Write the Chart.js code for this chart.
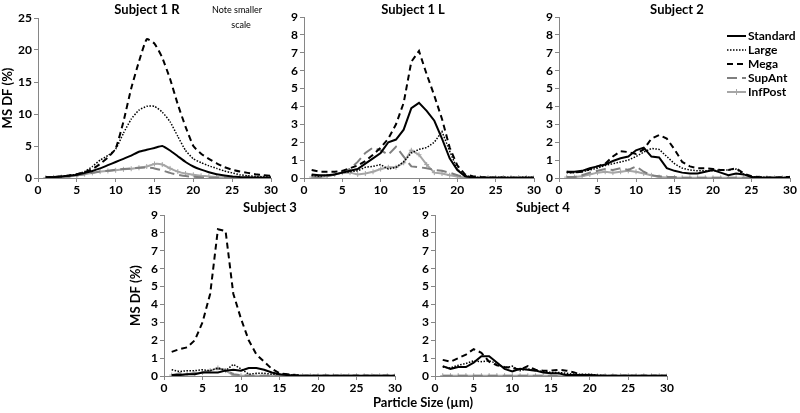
<!DOCTYPE html>
<html>
<head>
<meta charset="utf-8">
<script src="https://cdn.jsdelivr.net/npm/chart.js@4/dist/chart.umd.min.js"></script>
<style>
    body { margin: 0; background: #fff; width: 800px; height: 413px; position: relative; overflow: hidden; }
    canvas { position: absolute; }
    #xTitle { position: absolute; left: 323px; width: 200px; top: 394px; text-align: center; font: bold 13px Lato, sans-serif; color: #000; }
</style>
</head>
<body>
<canvas id="p1"></canvas>
<canvas id="p2"></canvas>
<canvas id="p3"></canvas>
<canvas id="p4"></canvas>
<canvas id="p5"></canvas>
<div id="xTitle">Particle Size (µm)</div>
<script>
// Particle size bins (µm)
const sizes = [1, 2, 3, 4, 5, 6, 7, 8, 9, 10, 11, 12, 13, 14, 15, 16, 17, 18, 19, 20, 21, 22, 23, 24, 25, 26, 27, 28, 29, 30];
const seriesNames = ['Standard', 'Large', 'Mega', 'SupAnt', 'InfPost'];

// Subject 1 R
const s1rStandard = [0.1, 0.15, 0.25, 0.35, 0.5, 0.8, 1.1, 1.5, 2.0, 2.5, 3.0, 3.5, 4.1, 4.4, 4.7, 5.0, 4.3, 3.4, 2.5, 1.8, 1.3, 0.9, 0.6, 0.4, 0.25, 0.15, 0.1, 0.07, 0.05, 0.03];
const s1rLarge = [0.1, 0.15, 0.25, 0.4, 0.6, 1.0, 1.8, 2.8, 3.5, 4.5, 7.0, 9.2, 10.6, 11.2, 11.2, 10.3, 8.8, 6.5, 4.3, 3.0, 2.4, 1.9, 1.5, 1.1, 0.8, 0.5, 0.35, 0.25, 0.2, 0.15];
const s1rMega = [0.1, 0.15, 0.25, 0.4, 0.6, 0.9, 1.4, 2.2, 3.2, 4.6, 8.8, 14.0, 18.2, 21.7, 21.0, 18.8, 15.5, 11.5, 8.0, 5.0, 3.8, 3.0, 2.3, 1.7, 1.3, 1.0, 0.8, 0.6, 0.45, 0.35];
const s1rSupAnt = [0.05, 0.1, 0.15, 0.25, 0.4, 0.6, 0.8, 1.0, 1.15, 1.3, 1.4, 1.5, 1.6, 1.65, 1.5, 1.2, 0.8, 0.5, 0.3, 0.2, 0.1, 0.05, 0.03, 0.02, 0.01, 0.01, 0.01, 0.01, 0.01, 0.01];
const s1rInfPost = [0.05, 0.1, 0.15, 0.25, 0.4, 0.6, 0.8, 1.0, 1.1, 1.2, 1.35, 1.45, 1.6, 1.8, 2.2, 2.1, 1.5, 1.0, 0.7, 0.5, 0.35, 0.25, 0.15, 0.1, 0.08, 0.06, 0.05, 0.05, 0.04, 0.04];

// Subject 1 L
const s1lStandard = [0.2, 0.15, 0.15, 0.2, 0.3, 0.4, 0.5, 0.8, 1.1, 1.4, 2.0, 2.15, 2.7, 3.9, 4.2, 3.75, 3.2, 2.2, 1.1, 0.45, 0.1, 0.03, 0.02, 0.02, 0.02, 0.02, 0.02, 0.02, 0.02, 0.02];
const s1lLarge = [0.15, 0.1, 0.15, 0.2, 0.3, 0.35, 0.4, 0.6, 0.65, 0.75, 0.5, 0.6, 0.9, 1.4, 1.6, 1.7, 2.0, 2.6, 1.5, 0.5, 0.15, 0.05, 0.03, 0.03, 0.03, 0.05, 0.03, 0.03, 0.05, 0.03];
const s1lMega = [0.45, 0.35, 0.35, 0.35, 0.4, 0.55, 0.7, 0.95, 1.3, 1.7, 2.2, 3.0, 4.2, 6.5, 7.1, 5.8, 4.6, 3.3, 1.7, 0.7, 0.2, 0.1, 0.05, 0.03, 0.03, 0.02, 0.02, 0.02, 0.02, 0.02];
const s1lSupAnt = [0.1, 0.05, 0.1, 0.2, 0.35, 0.5, 0.9, 1.4, 1.7, 1.55, 1.3, 1.75, 1.2, 0.65, 0.6, 0.55, 0.45, 0.4, 0.3, 0.15, 0.05, 0.03, 0.02, 0.02, 0.02, 0.02, 0.02, 0.02, 0.02, 0.02];
const s1lInfPost = [0.05, 0.05, 0.1, 0.2, 0.3, 0.3, 0.2, 0.25, 0.35, 0.5, 0.6, 0.6, 0.85, 1.55, 1.3, 0.75, 0.3, 0.25, 0.15, 0.08, 0.03, 0.02, 0.02, 0.02, 0.02, 0.02, 0.02, 0.02, 0.02, 0.02];

// Subject 2
const s2Standard = [0.35, 0.35, 0.4, 0.55, 0.65, 0.75, 0.95, 1.1, 1.2, 1.55, 1.7, 1.2, 1.15, 0.55, 0.4, 0.3, 0.25, 0.25, 0.35, 0.45, 0.3, 0.15, 0.25, 0.2, 0.05, 0.03, 0.02, 0.02, 0.02, 0.02];
const s2Large = [0.3, 0.3, 0.35, 0.45, 0.55, 0.7, 0.8, 0.9, 1.0, 1.2, 1.45, 1.65, 1.6, 1.2, 0.8, 0.55, 0.45, 0.4, 0.4, 0.4, 0.45, 0.45, 0.5, 0.2, 0.08, 0.05, 0.03, 0.03, 0.03, 0.03];
const s2Mega = [0.35, 0.3, 0.35, 0.5, 0.65, 0.8, 1.2, 1.5, 1.45, 1.35, 1.6, 2.2, 2.4, 2.2, 1.6, 0.9, 0.65, 0.55, 0.55, 0.5, 0.45, 0.45, 0.55, 0.25, 0.1, 0.05, 0.03, 0.03, 0.05, 0.05];
const s2SupAnt = [0.05, 0.05, 0.15, 0.3, 0.4, 0.5, 0.45, 0.55, 0.45, 0.65, 0.35, 0.15, 0.1, 0.05, 0.05, 0.02, 0.01, 0.01, 0.01, 0.01, 0.01, 0.01, 0.01, 0.01, 0.01, 0.01, 0.01, 0.01, 0.01, 0.01];
const s2InfPost = [0.05, 0.05, 0.1, 0.2, 0.3, 0.35, 0.3, 0.35, 0.4, 0.35, 0.25, 0.15, 0.05, 0.03, 0.02, 0.01, 0.01, 0.01, 0.01, 0.01, 0.01, 0.01, 0.01, 0.01, 0.01, 0.01, 0.01, 0.01, 0.01, 0.01];

// Subject 3
const s3Standard = [0.05, 0.05, 0.1, 0.1, 0.2, 0.2, 0.2, 0.3, 0.35, 0.3, 0.45, 0.45, 0.35, 0.2, 0.1, 0.05, 0.02, 0.02, 0.01, 0.01, 0.01, 0.01, 0.01, 0.01, 0.01, 0.01, 0.01, 0.01, 0.01, 0.01];
const s3Large = [0.35, 0.25, 0.3, 0.3, 0.35, 0.3, 0.45, 0.3, 0.65, 0.4, 0.1, 0.15, 0.15, 0.1, 0.1, 0.1, 0.05, 0.02, 0.01, 0.01, 0.01, 0.01, 0.01, 0.01, 0.01, 0.01, 0.01, 0.01, 0.01, 0.01];
const s3Mega = [1.35, 1.5, 1.6, 2.0, 3.0, 4.6, 8.2, 8.1, 4.6, 3.2, 2.0, 1.2, 0.8, 0.4, 0.15, 0.1, 0.05, 0.02, 0.01, 0.01, 0.01, 0.01, 0.01, 0.01, 0.01, 0.01, 0.01, 0.01, 0.01, 0.01];
const s3SupAnt = [0.05, 0.15, 0.1, 0.15, 0.2, 0.3, 0.4, 0.35, 0.1, 0.05, 0.02, 0.01, 0.01, 0.01, 0.01, 0.01, 0.01, 0.01, 0.01, 0.01, 0.01, 0.01, 0.01, 0.01, 0.01, 0.01, 0.01, 0.01, 0.01, 0.01];
const s3InfPost = [0.05, 0.05, 0.1, 0.15, 0.2, 0.3, 0.45, 0.3, 0.05, 0.02, 0.01, 0.01, 0.01, 0.01, 0.01, 0.01, 0.01, 0.01, 0.01, 0.01, 0.01, 0.01, 0.01, 0.01, 0.01, 0.01, 0.01, 0.01, 0.01, 0.01];

// Subject 4
const s4Standard = [0.55, 0.4, 0.5, 0.5, 0.75, 1.1, 1.1, 0.75, 0.4, 0.25, 0.4, 0.35, 0.3, 0.2, 0.15, 0.15, 0.05, 0.05, 0.05, 0.05, 0.02, 0.01, 0.01, 0.01, 0.01, 0.01, 0.01, 0.01, 0.01, 0.01];
const s4Large = [0.5, 0.45, 0.6, 0.7, 0.85, 0.8, 0.85, 0.7, 0.45, 0.55, 0.3, 0.4, 0.3, 0.25, 0.2, 0.2, 0.15, 0.1, 0.1, 0.1, 0.05, 0.02, 0.01, 0.01, 0.01, 0.01, 0.01, 0.01, 0.01, 0.01];
const s4Mega = [0.9, 0.8, 1.0, 1.2, 1.5, 1.3, 0.8, 0.6, 0.5, 0.45, 0.35, 0.55, 0.35, 0.3, 0.3, 0.35, 0.3, 0.2, 0.05, 0.05, 0.02, 0.01, 0.01, 0.01, 0.01, 0.01, 0.01, 0.01, 0.01, 0.01];
const s4SupAnt = [0.02, 0.02, 0.02, 0.02, 0.02, 0.02, 0.02, 0.02, 0.02, 0.02, 0.01, 0.01, 0.01, 0.01, 0.01, 0.01, 0.01, 0.01, 0.01, 0.01, 0.01, 0.01, 0.01, 0.01, 0.01, 0.01, 0.01, 0.01, 0.01, 0.01];
const s4InfPost = [0.02, 0.02, 0.02, 0.02, 0.02, 0.02, 0.02, 0.02, 0.02, 0.02, 0.01, 0.01, 0.01, 0.01, 0.01, 0.01, 0.01, 0.01, 0.01, 0.01, 0.01, 0.01, 0.01, 0.01, 0.01, 0.01, 0.01, 0.01, 0.01, 0.01];

Chart.defaults.font.family = 'Lato, sans-serif';
Chart.defaults.color = '#000';

const axisGray = '#868686';

// Line style of each series
const seriesStyles = {
    Standard: { borderColor: '#000', borderWidth: 2, borderDash: [], pointRadius: 0 },
    Large: { borderColor: '#000', borderWidth: 1.5, borderDash: [1.5, 1.5], pointRadius: 0 },
    Mega: { borderColor: '#000', borderWidth: 2, borderDash: [6, 4], pointRadius: 0 },
    SupAnt: { borderColor: '#7f7f7f', borderWidth: 2, borderDash: [10, 5], pointRadius: 0 },
    InfPost: { borderColor: '#a6a6a6', borderWidth: 2, borderDash: [], pointRadius: 2.5, pointStyle: 'cross', pointBorderColor: '#a6a6a6', pointBorderWidth: 1 }
};

// Draws panel titles, the note and the legend
const panelText = {
    id: 'panelText',
    afterDraw(chart, args, opts) {
        const ctx = chart.ctx;
        ctx.save();
        (opts.items || []).forEach(function(t) {
            ctx.font = t.font;
            ctx.fillStyle = t.color || '#000';
            ctx.textAlign = t.align || 'center';
            ctx.textBaseline = 'middle';
            ctx.fillText(t.text, t.x, t.y);
        });
        if (opts.legend) {
            const lg = opts.legend;
            chart.data.datasets.forEach(function(ds, i) {
                const y = lg.y + i * lg.step;
                ctx.strokeStyle = ds.borderColor;
                ctx.lineWidth = ds.borderWidth;
                ctx.setLineDash(ds.borderDash || []);
                ctx.beginPath();
                ctx.moveTo(lg.x, y);
                ctx.lineTo(lg.x + lg.len, y);
                ctx.stroke();
                ctx.setLineDash([]);
                if (ds.pointRadius > 0) {
                    const cx = lg.x + lg.len / 2;
                    ctx.lineWidth = 1;
                    ctx.beginPath();
                    ctx.moveTo(cx, y - 3);
                    ctx.lineTo(cx, y + 3);
                    ctx.stroke();
                }
                ctx.font = 'bold 12px Lato, sans-serif';
                ctx.fillStyle = '#000';
                ctx.textAlign = 'left';
                ctx.textBaseline = 'middle';
                ctx.fillText(ds.label, lg.x + lg.len + 2, y);
            });
        }
        ctx.restore();
    }
};

const titleFont = 'bold 13px Lato, sans-serif';

const panels = [
    { id: 'p1', left: 0, top: 0, width: 285, height: 200, yW: 38, xH: 22, padTop: 18, padRight: 14,
      yMax: 25, yStep: 5, yTitle: 'MS DF (%)', tension: 0.15,
      series: [s1rStandard, s1rLarge, s1rMega, s1rSupAnt, s1rInfPost],
      texts: [
          { text: 'Subject 1 R', x: 147, y: 10, font: titleFont },
          { text: 'Note smaller', x: 237, y: 10, font: '9px Lato, sans-serif' },
          { text: 'scale', x: 241, y: 25, font: '9px Lato, sans-serif' }
      ] },
    { id: 'p2', left: 272, top: 0, width: 270, height: 200, yW: 32, xH: 22, padTop: 17, padRight: 8,
      yMax: 9, yStep: 1, tension: 0,
      series: [s1lStandard, s1lLarge, s1lMega, s1lSupAnt, s1lInfPost],
      texts: [{ text: 'Subject 1 L', x: 413, y: 10, font: titleFont }] },
    { id: 'p3', left: 527, top: 0, width: 273, height: 200, yW: 32, xH: 22, padTop: 17, padRight: 10,
      yMax: 9, yStep: 1, tension: 0,
      series: [s2Standard, s2Large, s2Mega, s2SupAnt, s2InfPost],
      texts: [{ text: 'Subject 2', x: 677, y: 10, font: titleFont }],
      legend: { x: 727, y: 36, step: 14, len: 19 } },
    { id: 'p4', left: 128, top: 200, width: 277, height: 213, yW: 36, xH: 37, padTop: 15, padRight: 10,
      yMax: 9, yStep: 1, yTitle: 'MS DF (%)', tension: 0,
      series: [s3Standard, s3Large, s3Mega, s3SupAnt, s3InfPost],
      texts: [{ text: 'Subject 3', x: 270, y: 208, font: titleFont }] },
    { id: 'p5', left: 403, top: 200, width: 274, height: 213, yW: 32, xH: 37, padTop: 15, padRight: 10,
      yMax: 9, yStep: 1, tension: 0,
      series: [s4Standard, s4Large, s4Mega, s4SupAnt, s4InfPost],
      texts: [{ text: 'Subject 4', x: 543, y: 208, font: titleFont }] }
];

panels.forEach(function(p) {
    const canvas = document.getElementById(p.id);
    canvas.width = p.width;
    canvas.height = p.height;
    canvas.style.left = p.left + 'px';
    canvas.style.top = p.top + 'px';
    canvas.style.width = p.width + 'px';
    canvas.style.height = p.height + 'px';

    const datasets = p.series.map(function(values, i) {
        const name = seriesNames[i];
        return Object.assign({
            label: name,
            data: values.map(function(v, k) { return { x: sizes[k], y: v }; }),
            tension: p.tension,
            fill: false,
            order: i
        }, seriesStyles[name]);
    });

    // texts are in page coordinates, shift them into the canvas
    const items = p.texts.map(function(t) {
        return Object.assign({}, t, { x: t.x - p.left, y: t.y - p.top });
    });
    const legend = p.legend ? Object.assign({}, p.legend, { x: p.legend.x - p.left, y: p.legend.y - p.top }) : null;

    new Chart(canvas, {
        type: 'line',
        data: { datasets: datasets },
        options: {
            responsive: false,
            animation: false,
            layout: { padding: { top: p.padTop, right: p.padRight, bottom: 0, left: 0 } },
            plugins: {
                legend: { display: false },
                tooltip: { enabled: false },
                panelText: { items: items, legend: legend }
            },
            scales: {
                x: {
                    type: 'linear',
                    min: 0,
                    max: 30,
                    ticks: { stepSize: 5, padding: 1, font: { size: 12, weight: 'bold' }, color: '#000', maxRotation: 0 },
                    grid: { drawOnChartArea: false, drawTicks: true, tickLength: 4, color: axisGray },
                    border: { color: axisGray, width: 1 },
                    afterFit: function(s) { s.height = p.xH; }
                },
                y: {
                    min: 0,
                    max: p.yMax,
                    ticks: { stepSize: p.yStep, padding: 2, font: { size: 12, weight: 'bold' }, color: '#000' },
                    grid: { drawOnChartArea: false, drawTicks: true, tickLength: 4, color: axisGray },
                    border: { color: axisGray, width: 1 },
                    title: {
                        display: !!p.yTitle,
                        text: p.yTitle || '',
                        font: { size: 13, weight: 'bold' },
                        padding: 0
                    },
                    afterFit: function(s) { s.width = p.yW; }
                }
            }
        },
        plugins: [panelText]
    });
});
</script>
</body>
</html>
